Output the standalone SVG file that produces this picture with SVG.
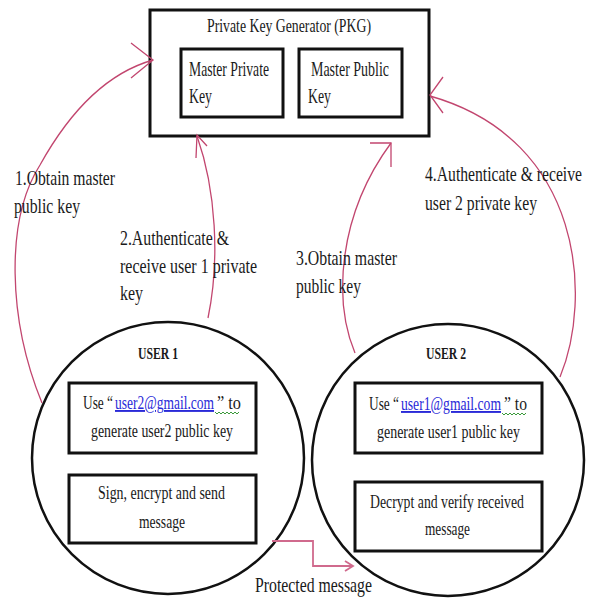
<svg xmlns="http://www.w3.org/2000/svg" width="589" height="598" viewBox="0 0 589 598">
<style>
text{font-family:"Liberation Serif","Times New Roman",serif;fill:#1a1a1a;}
.t{font-size:21px;}
.tt{font-size:19px;}
.b{font-size:19px;}
.h{font-size:17px;font-weight:bold;}
.box{fill:#fff;stroke:#111;stroke-width:3;}
.ibox{fill:#fff;stroke:#111;stroke-width:3;}
.circ{fill:#fff;stroke:#111;stroke-width:2.5;}
.c{fill:none;stroke:#c2466f;stroke-width:1.3;}
.p{fill:none;stroke:#d06a8d;stroke-width:1.8;}
.lnk{fill:#2a2ad8;text-decoration:underline;}
.sq{fill:none;stroke:#3a9a3a;stroke-width:1;}
</style>
<rect width="589" height="598" fill="#fff"/>
<g id="pkg">
<rect class="box" x="150" y="10" width="279" height="126"/>
<text class="tt" x="207" y="32" textLength="164" lengthAdjust="spacingAndGlyphs">Private Key Generator (PKG)</text>
</g>
<g id="master-private">
<rect class="ibox" x="181" y="49" width="102" height="68"/>
<text class="t" x="189" y="76" textLength="80" lengthAdjust="spacingAndGlyphs">Master Private</text>
<text class="t" x="189" y="103" textLength="23" lengthAdjust="spacingAndGlyphs">Key</text>
</g>
<g id="master-public">
<rect class="ibox" x="299" y="49" width="103" height="68"/>
<text class="t" x="311" y="76" textLength="78" lengthAdjust="spacingAndGlyphs">Master Public</text>
<text class="t" x="308" y="103" textLength="23" lengthAdjust="spacingAndGlyphs">Key</text>
</g>
<g id="user1">
<circle class="circ" cx="168" cy="458" r="136"/>
<text class="h" x="138" y="359" textLength="40" lengthAdjust="spacingAndGlyphs">USER 1</text>
<rect class="ibox" x="69" y="383" width="187" height="70"/>
<text class="b" x="83" y="409" textLength="30" lengthAdjust="spacingAndGlyphs">Use “</text>
<text class="b lnk" x="115" y="409" textLength="99" lengthAdjust="spacingAndGlyphs">user2@gmail.com</text>
<text class="b" x="217" y="409" textLength="24" lengthAdjust="spacingAndGlyphs">”  to</text>
<polyline class="sq" points="215,412 217,414 219,412 221,414 223,412 225,414 227,412 229,414 231,412 233,414 235,412 237,414 239,412"/>
<text class="b" x="91" y="437" textLength="142" lengthAdjust="spacingAndGlyphs">generate user2 public key</text>
<rect class="ibox" x="69" y="475" width="187" height="68"/>
<text class="b" x="98" y="499" textLength="127" lengthAdjust="spacingAndGlyphs">Sign, encrypt and send</text>
<text class="b" x="139" y="528" textLength="46" lengthAdjust="spacingAndGlyphs">message</text>
</g>
<g id="user2">
<circle class="circ" cx="448" cy="460" r="136"/>
<text class="h" x="426" y="359" textLength="40" lengthAdjust="spacingAndGlyphs">USER 2</text>
<rect class="ibox" x="355" y="383" width="187" height="70"/>
<text class="b" x="369" y="410" textLength="30" lengthAdjust="spacingAndGlyphs">Use “</text>
<text class="b lnk" x="401" y="410" textLength="100" lengthAdjust="spacingAndGlyphs">user1@gmail.com</text>
<text class="b" x="504" y="410" textLength="23" lengthAdjust="spacingAndGlyphs">”  to</text>
<polyline class="sq" points="502,413 504,415 506,413 508,415 510,413 512,415 514,413 516,415 518,413 520,415 522,413 524,415 526,413"/>
<text class="b" x="377" y="438" textLength="143" lengthAdjust="spacingAndGlyphs">generate user1 public key</text>
<rect class="ibox" x="355" y="482" width="187" height="69"/>
<text class="b" x="370" y="508" textLength="154" lengthAdjust="spacingAndGlyphs">Decrypt and verify received</text>
<text class="b" x="425" y="535" textLength="45" lengthAdjust="spacingAndGlyphs">message</text>
</g>
<g id="connectors">
<path class="c" d="M42,403 C8,320 5,220 40,165 C65,120 100,75 153,60"/>
<polyline class="c" points="131,43 153,60 131,78"/>
<path class="c" d="M208,318 C220,260 216,190 197,136"/>
<polyline class="c" points="196,158 197,135 207,146"/>
<path class="c" d="M355,353 C333,300 338,215 391,143"/>
<polyline class="c" points="370,143 391,143 391,167"/>
<path class="c" d="M560,377 C592,300 585,140 430,96"/>
<polyline class="c" points="443,77 430,95 443,113"/>
<polyline class="p" points="272,541 313,541 313,566 352,566"/>
<polyline class="p" points="345,561 353,566 345,571"/>
</g>
<g id="labels">
<text class="t" x="15" y="185" textLength="100" lengthAdjust="spacingAndGlyphs">1.Obtain master</text>
<text class="t" x="14" y="213" textLength="66" lengthAdjust="spacingAndGlyphs">public  key</text>
<text class="t" x="120" y="245" textLength="109" lengthAdjust="spacingAndGlyphs">2.Authenticate &amp;</text>
<text class="t" x="120" y="273" textLength="137" lengthAdjust="spacingAndGlyphs">receive  user 1 private</text>
<text class="t" x="120" y="300" textLength="23" lengthAdjust="spacingAndGlyphs">key</text>
<text class="t" x="296" y="265" textLength="101" lengthAdjust="spacingAndGlyphs">3.Obtain master</text>
<text class="t" x="296" y="293" textLength="65" lengthAdjust="spacingAndGlyphs">public  key</text>
<text class="t" x="425" y="181" textLength="157" lengthAdjust="spacingAndGlyphs">4.Authenticate &amp; receive</text>
<text class="t" x="425" y="210" textLength="112" lengthAdjust="spacingAndGlyphs">user 2 private key</text>
<text class="t" x="255" y="592" textLength="117" lengthAdjust="spacingAndGlyphs">Protected message</text>
</g>
</svg>
